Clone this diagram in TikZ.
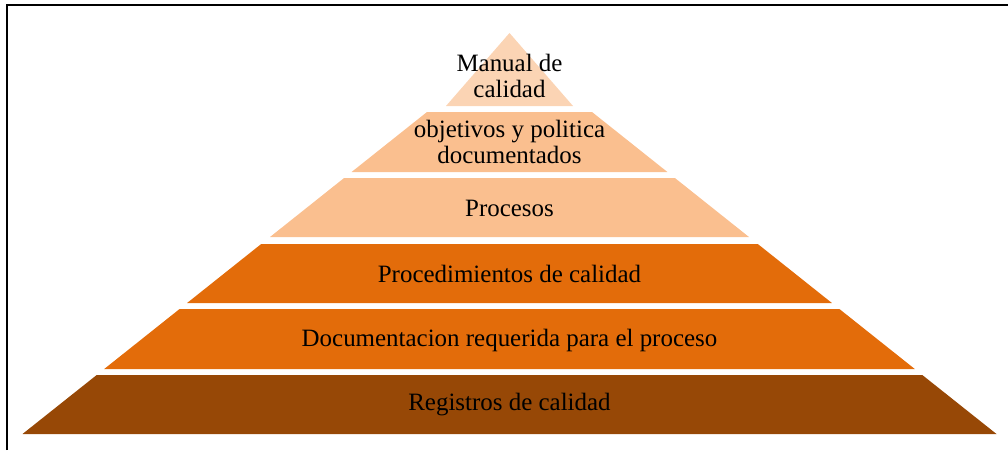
\documentclass[tikz,border=0pt]{standalone}
\usepackage{fontspec}
\setmainfont{Liberation Serif}
\usepackage{xcolor}
\usepackage{tikz}
\usetikzlibrary{positioning}

\definecolor{peachlight}{HTML}{FBD4B4}
\definecolor{peach}{HTML}{FABF8F}
\definecolor{orangedark}{HTML}{E36C0A}
\definecolor{browndark}{HTML}{974806}

\tikzset{
  layertext/.style={align=center,font=\fontsize{14.2}{14.8}\selectfont,inner sep=0pt}
}

\begin{document}
\begin{tikzpicture}[x=0.02cm, y=-0.02cm]
  \useasboundingbox (0,0) rectangle (1008,450);

  % Frame
  \coordinate (fbl) at (7,450);
  \coordinate (ftl) at (7,5);
  \coordinate (ftr) at (1008,5);
  \draw[line width=1.2pt] (fbl) -- (ftl) -- (ftr);

  % Top
  \fill[peachlight] (509.5,33) -- (573,106) -- (446,106) -- cycle;
  \node[layertext] (manual) at (509.5,76) {Manual de\\calidad};

  % Second and third layers
  \fill[peach] (427,112) -- (592,112) -- (667.4,172) -- (351.6,172) -- cycle;
  \node[layertext] (objetivos) at (509.5,142) {objetivos y politica\\documentados};

  \fill[peach] (344.1,178) -- (674.9,178) -- (749,237) -- (270,237) -- cycle;
  \node[layertext] (procesos) at (509.5,208) {Procesos};

  % Fourth and fifth layers
  \fill[orangedark] (261.2,244) -- (757.8,244) -- (831.9,303) -- (187.1,303) -- cycle;
  \node[layertext] (procedimientos) at (509.5,274) {Procedimientos de calidad};

  \fill[orangedark] (179.6,309) -- (839.4,309) -- (914.8,369) -- (104.2,369) -- cycle;
  \node[layertext] (documentacion) at (509.5,340) {Documentacion requerida para el proceso};

  % Base
  \fill[browndark] (96.7,375) -- (922.3,375) -- (996.5,434) -- (22.5,434) -- cycle;
  \node[layertext] (registros) at (509.5,405) {Registros de calidad};
\end{tikzpicture}
\end{document}
